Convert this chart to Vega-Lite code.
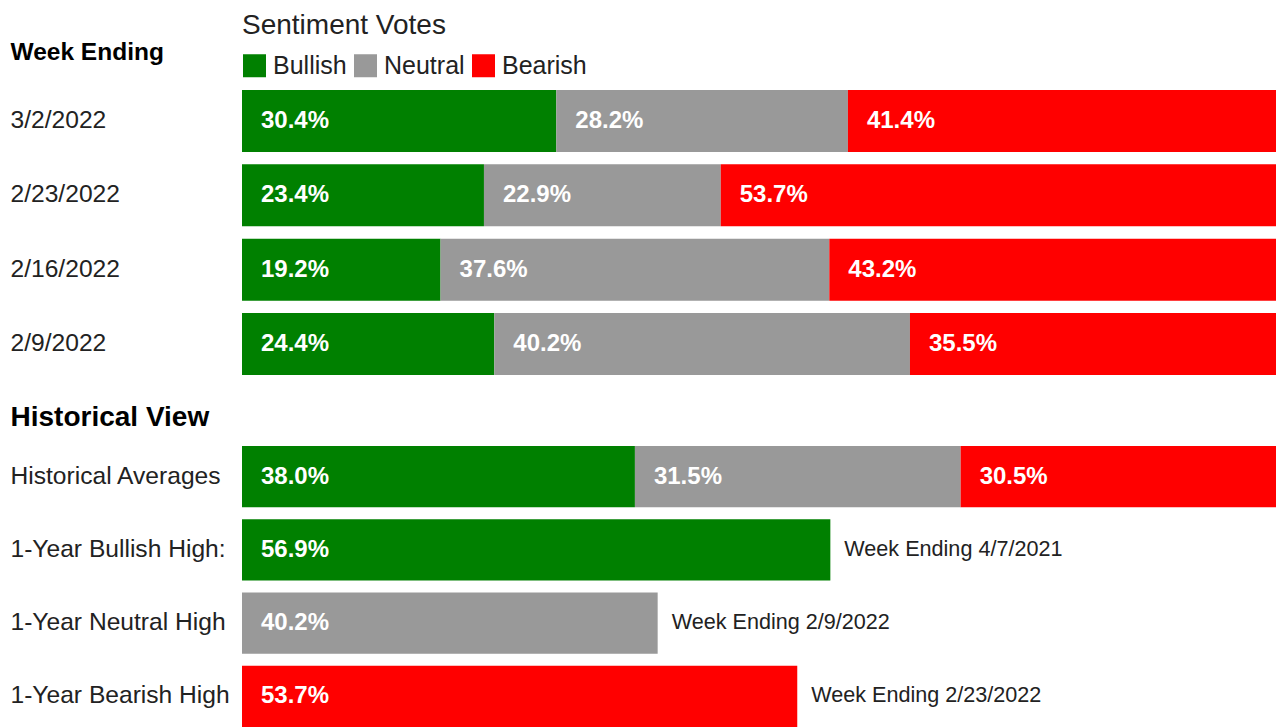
{
  "$schema": "https://vega.github.io/schema/vega-lite/v6.json",
  "background": "white",
  "padding": {"left": 10, "top": 12, "right": 2, "bottom": 0},
  "bounds": "flush",
  "spacing": 71,
  "config": {
    "font": "Liberation Sans",
    "view": {"stroke": null},
    "axisY": {
      "titleAngle": 0, "titleAlign": "left", "titleBaseline": "middle", "titleX": -232,
      "titleFontSize": 24.5, "titleFontWeight": "bold", "titleColor": "#000",
      "labelAlign": "left", "labelPadding": 232, "labelFontSize": 24.6, "labelColor": "#222",
      "labelLimit": 0, "ticks": false, "tickSize": 0, "domain": false, "grid": false
    }
  },
  "resolve": {"legend": {"color": "independent"}},
  "vconcat": [
    {
      "width": 1034,
      "height": 285,
      "data": {"values": [
        {"week": "3/2/2022", "sentiment": "Bullish", "value": 30.4},
        {"week": "3/2/2022", "sentiment": "Neutral", "value": 28.2},
        {"week": "3/2/2022", "sentiment": "Bearish", "value": 41.4},
        {"week": "2/23/2022", "sentiment": "Bullish", "value": 23.4},
        {"week": "2/23/2022", "sentiment": "Neutral", "value": 22.9},
        {"week": "2/23/2022", "sentiment": "Bearish", "value": 53.7},
        {"week": "2/16/2022", "sentiment": "Bullish", "value": 19.2},
        {"week": "2/16/2022", "sentiment": "Neutral", "value": 37.6},
        {"week": "2/16/2022", "sentiment": "Bearish", "value": 43.2},
        {"week": "2/9/2022", "sentiment": "Bullish", "value": 24.4},
        {"week": "2/9/2022", "sentiment": "Neutral", "value": 40.2},
        {"week": "2/9/2022", "sentiment": "Bearish", "value": 35.5}
      ]},
      "transform": [
        {"calculate": "indexof(['Bullish','Neutral','Bearish'], datum.sentiment)", "as": "k"},
        {"calculate": "format(datum.value, '.1f') + '%'", "as": "label"},
        {"stack": "value", "groupby": ["week"], "sort": [{"field": "k", "order": "ascending"}], "as": ["x0", "x1"]}
      ],
      "encoding": {
        "y": {
          "field": "week", "type": "nominal",
          "sort": ["3/2/2022", "2/23/2022", "2/16/2022", "2/9/2022"],
          "scale": {"paddingInner": 0.168, "paddingOuter": 0},
          "axis": {"title": "Week Ending", "titleY": -38}
        }
      },
      "layer": [
        {
          "mark": {"type": "bar", "clip": true},
          "encoding": {
            "x": {"field": "x0", "type": "quantitative", "scale": {"domain": [0, 100], "nice": false, "zero": false}, "axis": null},
            "x2": {"field": "x1"},
            "color": {
              "field": "sentiment", "type": "nominal",
              "scale": {"domain": ["Bullish", "Neutral", "Bearish"], "range": ["#008000", "#999999", "#ff0000"]},
              "legend": {
                "title": "Sentiment Votes", "orient": "top", "direction": "horizontal",
                "titleFontSize": 28, "titleFontWeight": "normal", "titleColor": "#222", "titlePadding": 13, "titleLimit": 1000,
                "labelFontSize": 25, "labelColor": "#222", "labelOffset": 6, "columnPadding": 6, "labelLimit": 1000,
                "symbolType": "square", "symbolSize": 529, "symbolStrokeWidth": 0, "symbolOpacity": 1,
                "offset": 11, "padding": 0
              }
            }
          }
        },
        {
          "mark": {"type": "text", "align": "left", "baseline": "middle", "dx": 19, "fontSize": 24, "fontWeight": "bold", "color": "white"},
          "encoding": {
            "x": {"field": "x0", "type": "quantitative"},
            "text": {"field": "label"}
          }
        }
      ]
    },
    {
      "width": 1034,
      "height": 281,
      "data": {"values": [
        {"row": "Historical Averages", "sentiment": "Bullish", "value": 38.0},
        {"row": "Historical Averages", "sentiment": "Neutral", "value": 31.5},
        {"row": "Historical Averages", "sentiment": "Bearish", "value": 30.5},
        {"row": "1-Year Bullish High:", "sentiment": "Bullish", "value": 56.9, "note": "Week Ending 4/7/2021"},
        {"row": "1-Year Neutral High", "sentiment": "Neutral", "value": 40.2, "note": "Week Ending 2/9/2022"},
        {"row": "1-Year Bearish High", "sentiment": "Bearish", "value": 53.7, "note": "Week Ending 2/23/2022"}
      ]},
      "transform": [
        {"calculate": "indexof(['Bullish','Neutral','Bearish'], datum.sentiment)", "as": "k"},
        {"calculate": "format(datum.value, '.1f') + '%'", "as": "label"},
        {"stack": "value", "groupby": ["row"], "sort": [{"field": "k", "order": "ascending"}], "as": ["x0", "x1"]}
      ],
      "encoding": {
        "y": {
          "field": "row", "type": "nominal",
          "sort": ["Historical Averages", "1-Year Bullish High:", "1-Year Neutral High", "1-Year Bearish High"],
          "scale": {"paddingInner": 0.165, "paddingOuter": 0},
          "axis": {"title": "Historical View", "titleY": -29, "titleFontSize": 28}
        }
      },
      "layer": [
        {
          "mark": {"type": "bar", "clip": true},
          "encoding": {
            "x": {"field": "x0", "type": "quantitative", "scale": {"domain": [0, 100], "nice": false, "zero": false}, "axis": null},
            "x2": {"field": "x1"},
            "color": {
              "field": "sentiment", "type": "nominal",
              "scale": {"domain": ["Bullish", "Neutral", "Bearish"], "range": ["#008000", "#999999", "#ff0000"]},
              "legend": null
            }
          }
        },
        {
          "mark": {"type": "text", "align": "left", "baseline": "middle", "dx": 19, "fontSize": 24, "fontWeight": "bold", "color": "white"},
          "encoding": {
            "x": {"field": "x0", "type": "quantitative"},
            "text": {"field": "label"}
          }
        },
        {
          "transform": [{"filter": "datum.note"}],
          "mark": {"type": "text", "align": "left", "baseline": "middle", "dx": 14, "fontSize": 21.6, "color": "#222"},
          "encoding": {
            "x": {"field": "x1", "type": "quantitative"},
            "text": {"field": "note"}
          }
        }
      ]
    }
  ]
}
